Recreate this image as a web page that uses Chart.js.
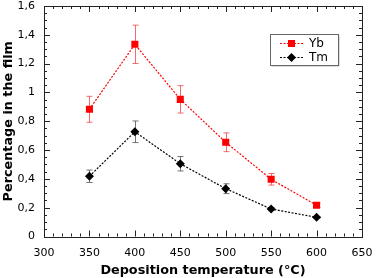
<!DOCTYPE html>
<html>
<head>
<meta charset="utf-8">
<script src="https://cdn.jsdelivr.net/npm/chart.js@4.4.1/dist/chart.umd.min.js"></script>
<style>
  html, body { margin: 0; padding: 0; background: #fff; }
  #wrap { width: 390px; height: 278px; }
</style>
</head>
<body>
<div id="wrap"><canvas id="chart" width="390" height="278"></canvas></div>
<script>
// temperatures (°C)
const temps = [350, 400, 450, 500, 550, 600];
// percentage in the film
const ybValues = [0.883, 1.334, 0.952, 0.654, 0.397, 0.217];
const ybErrors = [0.09, 0.133, 0.095, 0.065, 0.04, 0.015];
const tmValues = [0.418, 0.727, 0.505, 0.332, 0.191, 0.133];
const tmErrors = [0.043, 0.075, 0.05, 0.034, 0.008, 0.004];

const seriesNames = ['Yb', 'Tm'];

const FONT = 'DejaVu Sans';

function fmt(v) {
    return String(Number(v.toFixed(2))).replace('.', ',');
}

// error bars, drawn under the markers
const errorBars = {
    id: 'errorBars',
    beforeDatasetsDraw(chart) {
        const ctx = chart.ctx;
        const xs = chart.scales.x, ys = chart.scales.y;
        const sets = [
            { vals: ybValues, errs: ybErrors, color: 'rgba(240,60,60,0.75)' },
            { vals: tmValues, errs: tmErrors, color: 'rgba(90,90,90,0.85)' }
        ];
        ctx.save();
        ctx.lineWidth = 1;
        sets.forEach(s => {
            ctx.strokeStyle = s.color;
            s.vals.forEach((v, i) => {
                const x = Math.round(xs.getPixelForValue(temps[i])) + 0.5;
                const yt = ys.getPixelForValue(v + s.errs[i]);
                const yb = ys.getPixelForValue(v - s.errs[i]);
                ctx.beginPath();
                ctx.moveTo(x, yt); ctx.lineTo(x, yb);
                ctx.moveTo(x - 3, yt); ctx.lineTo(x + 3, yt);
                ctx.moveTo(x - 3, yb); ctx.lineTo(x + 3, yb);
                ctx.stroke();
            });
        });
        ctx.restore();
    }
};

// frame with inward major/minor ticks on all four sides
const frame = {
    id: 'frame',
    afterDraw(chart) {
        const ctx = chart.ctx;
        const a = chart.chartArea;
        const xs = chart.scales.x, ys = chart.scales.y;
        ctx.save();
        ctx.strokeStyle = '#222';
        ctx.lineWidth = 1;
        ctx.strokeRect(Math.round(a.left) + 0.5, Math.round(a.top) + 0.5,
            Math.round(a.right - a.left), Math.round(a.bottom - a.top));
        ctx.beginPath();
        for (let t = 300; t <= 650; t += 10) {
            const x = Math.round(xs.getPixelForValue(t)) + 0.5;
            const len = t % 50 === 0 ? 6 : 3;
            ctx.moveTo(x, a.bottom); ctx.lineTo(x, a.bottom - len);
            ctx.moveTo(x, a.top); ctx.lineTo(x, a.top + len);
        }
        for (let k = 0; k <= 32; k++) {
            const y = Math.round(ys.getPixelForValue(k * 0.05)) + 0.5;
            const len = k % 4 === 0 ? 6 : 3;
            ctx.moveTo(a.left, y); ctx.lineTo(a.left + len, y);
            ctx.moveTo(a.right, y); ctx.lineTo(a.right - len, y);
        }
        ctx.stroke();

        // legend box
        const bx = 270.5, by = 34.5, bw = 68, bh = 31;
        ctx.fillStyle = '#bbb';
        ctx.fillRect(bx + 1, by + 1, bw, bh);
        ctx.fillStyle = '#fff';
        ctx.fillRect(bx, by, bw, bh);
        ctx.strokeStyle = '#666';
        ctx.strokeRect(bx, by, bw, bh);
        const items = [
            { name: seriesNames[0], color: '#ff0000', style: 'rect', y: by + 9 },
            { name: seriesNames[1], color: '#000000', style: 'diamond', y: by + 23 }
        ];
        ctx.font = '12px ' + FONT;
        ctx.textBaseline = 'middle';
        items.forEach(it => {
            ctx.strokeStyle = it.color;
            ctx.setLineDash([2, 1.5]);
            ctx.beginPath();
            ctx.moveTo(280, it.y); ctx.lineTo(303, it.y);
            ctx.stroke();
            ctx.setLineDash([]);
            ctx.fillStyle = it.color;
            if (it.style === 'rect') {
                ctx.fillRect(288, it.y - 3.5, 7, 7);
            } else {
                ctx.beginPath();
                ctx.moveTo(291.5, it.y - 4.5); ctx.lineTo(296, it.y);
                ctx.lineTo(291.5, it.y + 4.5); ctx.lineTo(287, it.y);
                ctx.closePath(); ctx.fill();
            }
            ctx.fillStyle = '#000';
            ctx.fillText(it.name, 309, it.y + 0.5);
        });
        ctx.restore();
    }
};

new Chart(document.getElementById('chart'), {
    type: 'line',
    data: {
        datasets: [
            {
                label: seriesNames[0],
                data: temps.map((t, i) => ({ x: t, y: ybValues[i] })),
                borderColor: '#ff0000',
                backgroundColor: '#ff0000',
                borderWidth: 1.2,
                borderDash: [2, 1.5],
                pointStyle: 'rect',
                pointRadius: 5,
                pointBorderWidth: 0,
                tension: 0
            },
            {
                label: seriesNames[1],
                data: temps.map((t, i) => ({ x: t, y: tmValues[i] })),
                borderColor: '#000000',
                backgroundColor: '#000000',
                borderWidth: 1.2,
                borderDash: [2, 1.5],
                pointStyle: 'rectRot',
                pointRadius: 4.5,
                pointBorderWidth: 0,
                tension: 0
            }
        ]
    },
    options: {
        responsive: false,
        animation: false,
        layout: { padding: { top: 6, right: 28, left: 0, bottom: 0 } },
        plugins: {
            legend: { display: false },
            tooltip: { enabled: false }
        },
        scales: {
            x: {
                type: 'linear',
                min: 300,
                max: 650,
                grid: { display: false, drawTicks: false },
                border: { display: false },
                ticks: {
                    stepSize: 50,
                    padding: 10,
                    color: '#000',
                    font: { family: FONT, size: 11 }
                },
                title: {
                    display: true,
                    text: 'Deposition temperature (°C)',
                    color: '#000',
                    font: { family: FONT, size: 12.8, weight: 'bold' },
                    padding: { top: 2, bottom: 0 }
                },
                afterFit(scale) {
                    scale.height = 41.5;
                    scale.paddingLeft = 0;
                    scale.paddingRight = 0;
                }
            },
            y: {
                min: 0,
                max: 1.6,
                grid: { display: false, drawTicks: false },
                border: { display: false },
                ticks: {
                    stepSize: 0.2,
                    padding: 9,
                    color: '#000',
                    font: { family: FONT, size: 11 },
                    callback: v => fmt(v)
                },
                title: {
                    display: true,
                    text: 'Percentage in the film',
                    color: '#000',
                    font: { family: FONT, size: 12.8, weight: 'bold' },
                    padding: { top: 1, bottom: 2 }
                },
                afterFit(scale) {
                    scale.width = 44;
                    scale.paddingTop = 0;
                    scale.paddingBottom = 0;
                }
            }
        }
    },
    plugins: [errorBars, frame]
});
</script>
</body>
</html>
